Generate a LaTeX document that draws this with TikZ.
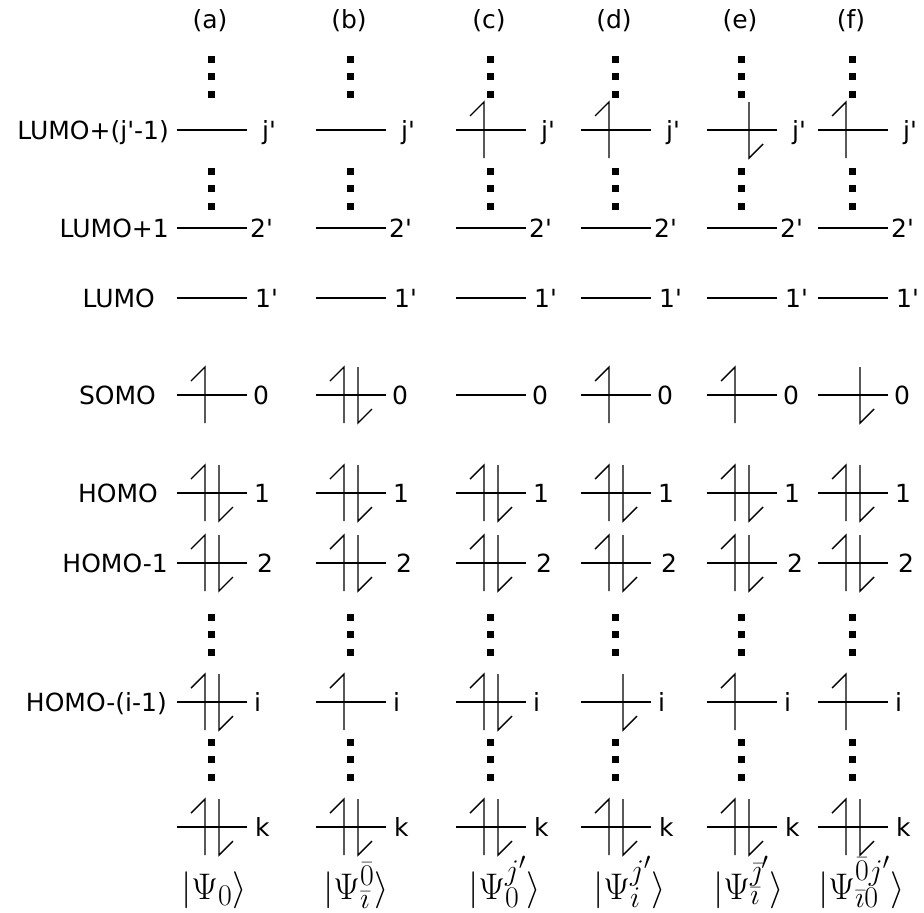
\RequirePackage{fix-cm}
\documentclass[tikz,border=0pt]{standalone}
\usepackage[no-math]{fontspec}
\setmainfont{DejaVu Sans}[Ligatures=TeXOff]
\DeclareMathSizes{37}{37}{30}{24}
% one orbital level, centred on #1 at height #2
\newcommand{\orbline}[2]{\draw[orb] (#1-35,#2) -- (#1+35,#2);}
\newcommand{\spinup}[2]{\draw[spin] (#1-21,#2-14) -- (#1-7,#2-28) -- (#1-7,#2+28);}
\newcommand{\spindn}[2]{\draw[spin] (#1+7,#2-28) -- (#1+7,#2+28) -- (#1+21,#2+14);}
\newcommand{\spinpair}[2]{\spinup{#1}{#2}\spindn{#1}{#2}}
\newcommand{\dotcol}[2]{\foreach \d in {0,17.5,35} {\fill (#1-4.5,#2+\d-3.5) rectangle ++(7,7);}}
\tikzset{
  orb/.style={line width=1.4pt},
  spin/.style={line width=1.4pt},
  lab/.style={inner sep=0pt, font=\fontsize{25}{30}\selectfont},
  rlab/.style={lab, anchor=base west},
  llab/.style={lab, anchor=base east},
  state/.style={inner sep=0pt, anchor=base west, font=\fontsize{37}{44}\selectfont},
}
\begin{document}
\begin{tikzpicture}[x=1pt,y=-1pt]
\useasboundingbox (0,0) rectangle (924,913);
% columns (a)-(f)
\foreach \c/\x in {a/212,b/351,c/491,d/616,e/742,f/853} {
  \node[lab, anchor=base] (head\c) at (\x-2,28) {(\c)};
  \orbline{\x}{130} \orbline{\x}{228} \orbline{\x}{298} \orbline{\x}{395}
  \orbline{\x}{493} \orbline{\x}{563} \orbline{\x}{702} \orbline{\x}{827}
  \spinpair{\x}{493} \spinpair{\x}{563} \spinpair{\x}{827}
  \dotcol{\x}{59} \dotcol{\x}{171} \dotcol{\x}{617} \dotcol{\x}{742}
  \node[rlab] (jp\c) at (\x+50,139) {j'};
  \node[rlab] (twop\c) at (\x+38,237) {2'};
  \node[rlab] (onep\c) at (\x+43,307) {1'};
  \node[rlab] (zero\c) at (\x+41,404) {0};
  \node[rlab] (one\c) at (\x+42,502) {1};
  \node[rlab] (two\c) at (\x+45,572) {2};
  \node[rlab] (i\c) at (\x+42,711) {i};
  \node[rlab] (k\c) at (\x+43,836) {k};
}
% occupations that differ
\spinup{212}{395} \spinpair{212}{702}
\spinpair{351}{395} \spinup{351}{702}
\spinup{491}{130} \spinpair{491}{702}
\spinup{616}{130} \spinup{616}{395} \spindn{616}{702}
\spindn{742}{130} \spinup{742}{395} \spinup{742}{702}
\spinup{853}{130} \spindn{853}{395} \spinup{853}{702}
% level names
\node[llab] (lumoj) at (169,139) {LUMO+(j'-1)};
\node[llab] (lumoone) at (169,237) {LUMO+1};
\node[llab] (lumo) at (155,307) {LUMO};
\node[llab] (somo) at (156,404) {SOMO};
\node[llab] (homo) at (158,502) {HOMO};
\node[llab] (homoone) at (168,572) {HOMO-1};
\node[llab] (homoi) at (167,711) {HOMO-(i-1)};
% determinants
\node[state] (psia) at (181,899) {$|\Psi_0\rangle$};
\node[state] (psib) at (323,899) {$|\Psi^{\bar{0}}_{\bar{\imath}}\rangle$};
\node[state] (psic) at (468,899) {$|\Psi^{j'}_{0}\rangle$};
\node[state] (psid) at (593,899) {$|\Psi^{j'}_{i}\rangle$};
\node[state] (psie) at (713,899) {$|\Psi^{\bar{\jmath}'}_{\bar{\imath}}\rangle$};
\node[state] (psif) at (818,899) {$|\Psi^{\bar{0}j'}_{\bar{\imath}0}\rangle$};
\end{tikzpicture}
\end{document}
